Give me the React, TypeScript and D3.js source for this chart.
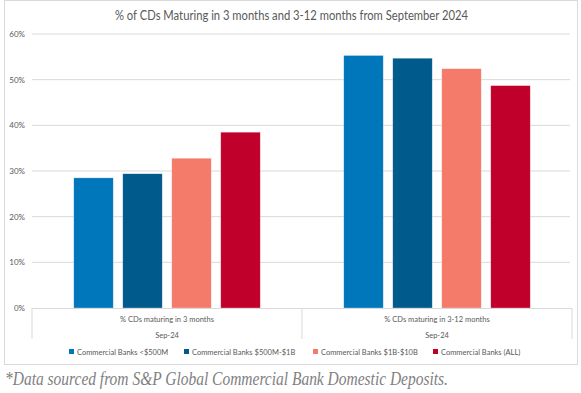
import * as d3 from "d3";

const categories = ["% CDs maturing in 3 months", "% CDs maturing in 3-12 months"];
const periodLabels = ["Sep-24", "Sep-24"];
const seriesNames = [
  "Commercial Banks <$500M",
  "Commercial Banks $500M-$1B",
  "Commercial Banks $1B-$10B",
  "Commercial Banks (ALL)",
];
const seriesColors = ["#0077bb", "#005a8c", "#f47a69", "#c0002b"];
// one array per series: [3 months, 3-12 months]
const under500M = [0.285, 0.553];
const from500Mto1B = [0.294, 0.547];
const from1Bto10B = [0.328, 0.524];
const allBanks = [0.385, 0.487];
const tickValues = [0, 0.1, 0.2, 0.3, 0.4, 0.5, 0.6];

const seriesValues = [under500M, from500Mto1B, from1Bto10B, allBanks];

const W = 581,
  H = 393;
const font = "Lato, 'Open Sans', sans-serif";

export default function App() {
  const x0 = d3.scaleBand<string>().domain(categories).range([32, 572]).padding(0);
  const x1 = d3
    .scaleBand<string>()
    .domain(seriesNames)
    .range([0, x0.bandwidth()])
    .paddingInner(0.194)
    .paddingOuter(0.852);
  const y = d3.scaleLinear().domain([0, 0.6]).range([308, 34]);
  const pct = d3.format(".0%");

  // legend swatch positions
  const legendX = [69, 184, 313, 433];

  return (
    <svg
      width={W}
      height={H}
      style={{ position: "absolute", left: 0, top: 0, background: "#fff" }}
      fontFamily={font}
    >
      <rect x={4.5} y={0.5} width={573} height={364} fill="#fff" stroke="#d9d9d9" />

      <text
        x={115}
        y={20}
        fontSize={12.5}
        fill="#595959"
        textLength={353}
        lengthAdjust="spacingAndGlyphs"
      >
        % of CDs Maturing in 3 months and 3-12 months from September 2024
      </text>

      {/* grid + y ticks */}
      {tickValues.map((t) => (
        <g key={t}>
          {t > 0 && (
            <line x1={32} x2={570} y1={y(t)} y2={y(t)} stroke="#d9d9d9" strokeWidth={1} />
          )}
          <text x={25} y={y(t) + 3} textAnchor="end" fontSize={8} fill="#595959">
            {pct(t)}
          </text>
        </g>
      ))}

      {/* bars */}
      {categories.map((c, ci) => (
        <g key={c} transform={`translate(${x0(c)},0)`}>
          {seriesNames.map((s, si) => {
            const v = seriesValues[si][ci];
            return (
              <rect
                key={s}
                x={x1(s)}
                y={y(v)}
                width={x1.bandwidth()}
                height={y(0) - y(v)}
                fill={seriesColors[si]}
                stroke="#ffffff"
                strokeOpacity={0.5}
                strokeWidth={0.6}
              />
            );
          })}
        </g>
      ))}

      {/* category axis box */}
      <line x1={32} x2={572} y1={308.5} y2={308.5} stroke="#d9d9d9" />
      {[...categories.map((c) => x0(c) as number), 572].map((xv, i) => (
        <line key={i} x1={xv} x2={xv} y1={308} y2={339} stroke="#d9d9d9" />
      ))}
      {categories.map((c, i) => (
        <g key={c}>
          <text
            x={(x0(c) as number) + x0.bandwidth() / 2}
            y={322}
            textAnchor="middle"
            fontSize={7.5}
            fill="#595959"
          >
            {c}
          </text>
          <text
            x={(x0(c) as number) + x0.bandwidth() / 2}
            y={338}
            textAnchor="middle"
            fontSize={7.5}
            fill="#595959"
          >
            {periodLabels[i]}
          </text>
        </g>
      ))}

      {/* legend */}
      {seriesNames.map((s, i) => (
        <g key={s} transform={`translate(${legendX[i]},352)`}>
          <rect x={0} y={-3} width={5} height={5} fill={seriesColors[i]} />
          <text x={8} y={2.5} fontSize={7.5} fill="#595959">
            {s}
          </text>
        </g>
      ))}

      <text
        x={5}
        y={385}
        fontSize={18}
        fontStyle="italic"
        fontFamily="'Liberation Serif', 'DejaVu Serif', serif"
        fill="#7f7f7f"
        textLength={443}
        lengthAdjust="spacingAndGlyphs"
      >
        *Data sourced from S&amp;P Global Commercial Bank Domestic Deposits.
      </text>
    </svg>
  );
}
